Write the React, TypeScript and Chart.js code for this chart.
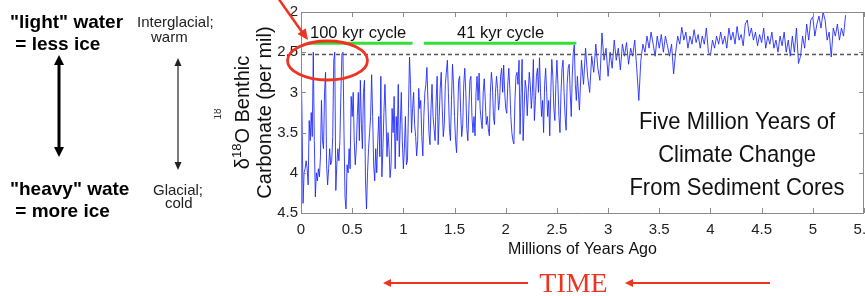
import { useEffect, useRef } from "react";
import { Chart, registerables } from "chart.js";

Chart.register(...registerables);

// ---------- data ----------
// Age axis in millions of years ago, δ18O in per mil (axis reversed)
const X_TICKS = [0, 0.5, 1, 1.5, 2, 2.5, 3, 3.5, 4, 4.5, 5, 5.5];
const Y_TICKS = [2, 2.5, 3, 3.5, 4, 4.5];

// 0.00 – 1.00 Myr, sampled every 0.01 Myr
const RECORD_A_START = 0;
const RECORD_A_STEP = 0.01;
const RECORD_A = [
  2.55, 3.3, 4.38, 4.0, 3.95, 3.85, 3.95, 4.15, 3.35, 3.6,
  3.25, 3.55, 2.5, 3.6, 4.3, 4.0, 4.1, 3.95, 4.05, 3.8,
  3.1, 3.6, 3.7, 3.0, 2.75, 3.9, 4.15, 3.95, 3.7, 3.9,
  3.85, 3.55, 2.6, 2.5, 4.22, 3.9, 3.7, 3.85, 3.6, 3.0,
  2.52, 2.5, 3.5, 4.3, 4.45, 3.9, 4.0, 3.7, 3.95, 3.05,
  3.3, 3.0, 3.6, 3.9, 3.7, 3.3, 3.0, 3.6, 2.85, 3.4,
  3.7, 3.0, 2.85, 4.1, 4.45, 4.0, 3.7, 3.5, 3.3, 2.78,
  3.3, 3.9, 4.1, 3.7, 4.0, 3.6, 3.3, 3.8, 2.8, 4.05,
  3.7, 3.25, 2.9, 3.3, 3.8, 3.5, 3.7, 4.06, 3.9, 3.2,
  3.5, 3.05, 3.95, 3.3, 3.6, 2.9, 3.8, 3.4, 3.0, 3.6,
  3.95,
];

// 1.01 – 2.70 Myr, sampled every 0.01 Myr
const RECORD_B_START = 1.01;
const RECORD_B_STEP = 0.01;
const RECORD_B = [
  3.7, 3.3, 3.9, 3.85, 3.2, 2.56, 2.9, 3.5, 3.2, 3.0,
  3.4, 3.55, 3.79, 3.6, 2.95, 3.2, 3.1, 3.55, 3.79, 3.3,
  3.0, 2.9, 2.69, 3.1, 3.5, 3.65, 3.2, 2.9, 3.3, 3.45,
  3.6, 3.1, 2.8, 3.65, 3.3, 2.95, 2.75, 3.2, 3.55, 3.4,
  2.9, 2.75, 2.6, 3.0, 3.45, 3.6, 3.1, 2.65, 2.9, 3.3,
  3.6, 3.75, 3.3, 2.85, 2.8, 3.25, 3.55, 3.4, 2.9, 2.7,
  3.0, 3.45, 3.6, 3.2, 2.85, 2.8, 3.3, 3.5, 3.3, 3.54,
  3.0, 2.8, 3.1, 2.76, 3.2, 3.35, 3.45, 3.0, 2.83, 3.1,
  3.4, 3.3, 3.45, 3.54, 3.0, 2.75, 2.9, 3.3, 3.4, 3.0,
  2.8, 2.95, 3.22, 3.1, 2.8, 2.7, 3.0, 2.66, 3.0, 3.2,
  3.26, 2.9, 2.7, 2.95, 3.3, 3.5, 3.6, 3.64, 3.1, 2.8,
  2.75, 2.9, 2.6, 3.52, 3.0, 2.59, 3.6, 3.2, 2.85, 2.95,
  3.29, 3.0, 2.75, 2.9, 3.2, 3.0, 2.59, 3.35, 3.1, 2.8,
  2.7, 3.0, 2.57, 3.0, 3.3, 3.1, 3.5, 2.9, 2.7, 3.0,
  3.3, 3.1, 3.54, 3.0, 2.59, 2.8, 3.2, 3.35, 2.9, 2.6,
  2.9, 3.3, 3.5, 3.0, 2.7, 2.6, 3.0, 3.3, 3.47, 2.9,
  2.7, 2.65, 3.0, 3.3, 2.8, 2.5, 2.41, 2.9, 3.1, 2.8,
];

// 2.72 – 5.32 Myr, sampled every 0.02 Myr
const RECORD_C_START = 2.72;
const RECORD_C_STEP = 0.02;
const RECORD_C = [
  3.22, 2.6, 2.9, 2.45, 2.8, 3.0, 2.55, 2.75, 2.4, 2.7,
  2.85, 2.26, 2.6, 2.45, 2.8, 2.5, 2.7, 2.35, 2.6, 2.45,
  2.72, 2.4, 2.55, 2.38, 2.65, 2.45, 2.55, 2.35, 2.7, 3.1,
  2.6, 2.4, 2.5, 2.3, 2.45, 2.25, 2.4, 2.55, 2.3, 2.45,
  2.28, 2.5, 2.3, 2.42, 2.55, 2.4, 2.77, 2.5, 2.3, 2.4,
  2.19, 2.35, 2.25, 2.45, 2.3, 2.4, 2.22, 2.38, 2.28, 2.45,
  2.3, 2.4, 2.2, 2.5, 2.54, 2.35, 2.45, 2.3, 2.4, 2.25,
  2.4, 2.3, 2.45, 2.2, 2.35, 2.25, 2.4, 2.18, 2.35, 2.28,
  2.42, 2.15, 2.1, 2.3, 2.2, 2.35, 2.25, 2.42, 2.28, 2.38,
  2.2, 2.45, 2.3, 2.4, 2.25, 2.45, 2.35, 2.5, 2.3, 2.42,
  2.25, 2.5, 2.35, 2.55, 2.3, 2.5, 2.2, 2.64, 2.55, 2.3,
  2.45, 2.15, 2.35, 2.1, 2.06, 2.3, 2.15, 2.05, 2.2, 2.0,
  2.1, 2.35, 2.25, 2.56, 2.2, 2.3, 2.15, 2.35, 2.2, 2.3,
  2.04,
];

const REFERENCE_LEVEL = 2.53; // dashed line
const CYCLE_BAR_LEVEL = 2.39; // green bars
const CYCLE_100_SPAN = [0.06, 1.09];
const CYCLE_41_SPAN = [1.2, 2.69];

// ---------- helpers ----------
function toPoints(start: number, step: number, values: number[]) {
  return values.map((v, i) => ({ x: Math.round((start + i * step) * 1000) / 1000, y: v }));
}

const FONT = '"Liberation Sans", Arial, Helvetica, sans-serif';

function arrowHead(ctx: CanvasRenderingContext2D, tx: number, ty: number, angle: number, len: number, half: number) {
  ctx.save();
  ctx.translate(tx, ty);
  ctx.rotate(angle);
  ctx.beginPath();
  ctx.moveTo(0, 0);
  ctx.lineTo(-len, -half);
  ctx.lineTo(-len, half);
  ctx.closePath();
  ctx.fill();
  ctx.restore();
}

const annotations = {
  id: "annotations",
  afterDraw(chart: any) {
    const { ctx, chartArea: ca } = chart;
    const xs = chart.scales.x;
    const ys = chart.scales.y;
    ctx.save();

    // frame
    ctx.strokeStyle = "#8a8a8a";
    ctx.lineWidth = 1;
    ctx.beginPath();
    ctx.moveTo(ca.left + 0.5, ca.top + 0.5);
    ctx.lineTo(ca.right - 0.5, ca.top + 0.5);
    ctx.lineTo(ca.right - 0.5, ca.bottom + 0.5);
    ctx.lineTo(ca.left + 0.5, ca.bottom + 0.5);
    ctx.closePath();
    ctx.stroke();
    // inward ticks
    ctx.beginPath();
    for (const v of X_TICKS) {
      const px = Math.round(xs.getPixelForValue(v)) + 0.5;
      ctx.moveTo(px, ca.bottom);
      ctx.lineTo(px, ca.bottom - 5);
      ctx.moveTo(px, ca.top);
      ctx.lineTo(px, ca.top + 5);
    }
    for (const v of Y_TICKS) {
      const py = Math.round(ys.getPixelForValue(v)) + 0.5;
      ctx.moveTo(ca.left, py);
      ctx.lineTo(ca.left + 5, py);
      ctx.moveTo(ca.right, py);
      ctx.lineTo(ca.right - 5, py);
    }
    ctx.stroke();

    // axis titles
    ctx.fillStyle = "#111";
    ctx.textBaseline = "alphabetic";
    ctx.textAlign = "center";
    ctx.font = `16px ${FONT}`;
    ctx.fillText("Millions of Years Ago", (ca.left + ca.right) / 2, 254);

    const midY = (ca.top + ca.bottom) / 2;
    ctx.save();
    ctx.translate(249, midY);
    ctx.rotate(-Math.PI / 2);
    ctx.textAlign = "left";
    const big = `20px ${FONT}`;
    const sup = `13px ${FONT}`;
    ctx.font = big;
    const wD = ctx.measureText("\u03b4").width;
    const wRest = ctx.measureText("O Benthic").width;
    ctx.font = sup;
    const wS = ctx.measureText("18").width;
    let cx = -(wD + wS + wRest) / 2;
    ctx.font = big;
    ctx.fillText("\u03b4", cx, 0);
    cx += wD;
    ctx.font = sup;
    ctx.fillText("18", cx, -8);
    cx += wS;
    ctx.font = big;
    ctx.fillText("O Benthic", cx, 0);
    ctx.textAlign = "center";
    ctx.fillText("Carbonate (per mil)", 0, 22);
    ctx.restore();

    // tiny clipped label fragment left of axis title
    ctx.save();
    ctx.beginPath();
    ctx.rect(214, 100, 8, 30);
    ctx.clip();
    ctx.translate(221, 114);
    ctx.rotate(-Math.PI / 2);
    ctx.font = `10px ${FONT}`;
    ctx.textAlign = "center";
    ctx.fillStyle = "#333";
    ctx.fillText("18", 0, 0);
    ctx.restore();

    // cycle labels
    ctx.fillStyle = "#111";
    ctx.textAlign = "left";
    ctx.font = `16.5px ${FONT}`;
    ctx.fillText("100 kyr cycle", 310, 38);
    ctx.fillText("41 kyr cycle", 457, 38);

    // big caption
    ctx.textAlign = "center";
    ctx.font = `22px ${FONT}`;
    const capX = 737;
    ctx.save();
    ctx.scale(1, 1.12);
    ctx.fillText("Five Million Years of", capX, 129 / 1.12);
    ctx.fillText("Climate Change", capX, 162 / 1.12);
    ctx.fillText("From Sediment Cores", capX, 195 / 1.12);
    ctx.restore();

    // left explanatory texts
    ctx.textAlign = "left";
    ctx.fillStyle = "#000";
    ctx.font = `bold 19px ${FONT}`;
    ctx.fillText('"light" water', 10, 28);
    ctx.fillText(" = less ice", 10, 50);
    ctx.fillText('"heavy" wate', 10, 195);
    ctx.fillText(" = more ice", 10, 217);

    ctx.fillStyle = "#222";
    ctx.font = `15px ${FONT}`;
    ctx.fillText("Interglacial;", 137, 27);
    ctx.fillText("warm", 151, 42);
    ctx.fillText("Glacial;", 153, 195);
    ctx.fillText("cold", 165, 208);

    // thick double arrow
    ctx.strokeStyle = "#000";
    ctx.fillStyle = "#000";
    ctx.lineWidth = 3;
    ctx.beginPath();
    ctx.moveTo(59, 62);
    ctx.lineTo(59, 150);
    ctx.stroke();
    arrowHead(ctx, 59, 55, -Math.PI / 2, 10, 5);
    arrowHead(ctx, 59, 157, Math.PI / 2, 10, 5);

    // thin double arrow
    ctx.strokeStyle = "#222";
    ctx.fillStyle = "#222";
    ctx.lineWidth = 1.2;
    ctx.beginPath();
    ctx.moveTo(178, 63);
    ctx.lineTo(178, 165);
    ctx.stroke();
    arrowHead(ctx, 178, 58, -Math.PI / 2, 8, 3.5);
    arrowHead(ctx, 178, 170, Math.PI / 2, 8, 3.5);

    // red ellipse + pointer
    const red = "#ee3322";
    ctx.strokeStyle = red;
    ctx.fillStyle = red;
    ctx.lineWidth = 2.8;
    ctx.beginPath();
    ctx.ellipse(327.5, 60.5, 40, 19.5, 0, 0, Math.PI * 2);
    ctx.stroke();
    ctx.lineWidth = 2.5;
    ctx.beginPath();
    ctx.moveTo(278, -2);
    ctx.lineTo(302, 32);
    ctx.stroke();
    arrowHead(ctx, 308, 40, Math.atan2(42, 30), 11, 5);

    // TIME arrows
    ctx.lineWidth = 1.8;
    ctx.beginPath();
    ctx.moveTo(528, 283);
    ctx.lineTo(388, 283);
    ctx.moveTo(770, 283);
    ctx.lineTo(630, 283);
    ctx.stroke();
    arrowHead(ctx, 383, 283, Math.PI, 8, 4);
    arrowHead(ctx, 625, 283, Math.PI, 8, 4);
    ctx.font = `28px "Liberation Serif", "Times New Roman", serif`;
    ctx.textAlign = "center";
    ctx.fillText("TIME", 573.5, 292);

    ctx.restore();
  },
};

export default function App() {
  const ref = useRef<HTMLCanvasElement>(null);

  useEffect(() => {
    if (!ref.current) return;
    const record = [
      ...toPoints(RECORD_A_START, RECORD_A_STEP, RECORD_A),
      ...toPoints(RECORD_B_START, RECORD_B_STEP, RECORD_B),
      ...toPoints(RECORD_C_START, RECORD_C_STEP, RECORD_C),
    ];
    const chart = new Chart(ref.current, {
      type: "line",
      data: {
        datasets: [
          {
            data: record,
            borderColor: "rgba(25,35,255,0.85)",
            borderWidth: 1,
            pointRadius: 0,
            tension: 0,
            order: 2,
          },
          {
            data: [
              { x: 0, y: REFERENCE_LEVEL },
              { x: 5.5, y: REFERENCE_LEVEL },
            ],
            borderColor: "#555",
            borderWidth: 1.5,
            borderDash: [4, 3],
            pointRadius: 0,
            order: 1,
          },
          {
            data: [
              { x: CYCLE_100_SPAN[0], y: CYCLE_BAR_LEVEL },
              { x: CYCLE_100_SPAN[1], y: CYCLE_BAR_LEVEL },
            ],
            borderColor: "#33e033",
            borderWidth: 3,
            pointRadius: 0,
            order: 0,
          },
          {
            data: [
              { x: CYCLE_41_SPAN[0], y: CYCLE_BAR_LEVEL },
              { x: CYCLE_41_SPAN[1], y: CYCLE_BAR_LEVEL },
            ],
            borderColor: "#33e033",
            borderWidth: 3,
            pointRadius: 0,
            order: 0,
          },
        ],
      },
      options: {
        animation: false,
        responsive: false,
        parsing: false,
        normalized: true,
        layout: { padding: { left: 261, top: 12, right: 1, bottom: 0 } },
        plugins: { legend: { display: false }, tooltip: { enabled: false } },
        scales: {
          x: {
            type: "linear",
            min: 0,
            max: 5.5,
            grid: { display: false, drawTicks: false },
            border: { display: false },
            afterBuildTicks: (s: any) => {
              s.ticks = X_TICKS.map((v) => ({ value: v }));
            },
            afterFit: (s: any) => {
              s.height = 83;
              s.paddingLeft = 0;
              s.paddingRight = 0;
            },
            ticks: {
              autoSkip: false,
              maxRotation: 0,
              padding: 8,
              color: "#222",
              font: { family: FONT, size: 15 },
              callback: (v: any) => String(Number(v)),
            },
          },
          y: {
            type: "linear",
            reverse: true,
            min: 2,
            max: 4.5,
            grid: { display: false, drawTicks: false },
            border: { display: false },
            afterBuildTicks: (s: any) => {
              s.ticks = Y_TICKS.map((v) => ({ value: v }));
            },
            afterFit: (s: any) => {
              s.width = 40;
              s.paddingTop = 0;
              s.paddingBottom = 0;
            },
            ticks: {
              padding: 3,
              color: "#222",
              font: { family: FONT, size: 15 },
              callback: (v: any) => String(Number(v)),
            },
          },
        },
      },
      plugins: [annotations],
    });
    return () => chart.destroy();
  }, []);

  return (
    <div style={{ position: "fixed", left: 0, top: 0, width: 865, height: 296, background: "#fff" }}>
      <canvas ref={ref} width={865} height={296} />
    </div>
  );
}
